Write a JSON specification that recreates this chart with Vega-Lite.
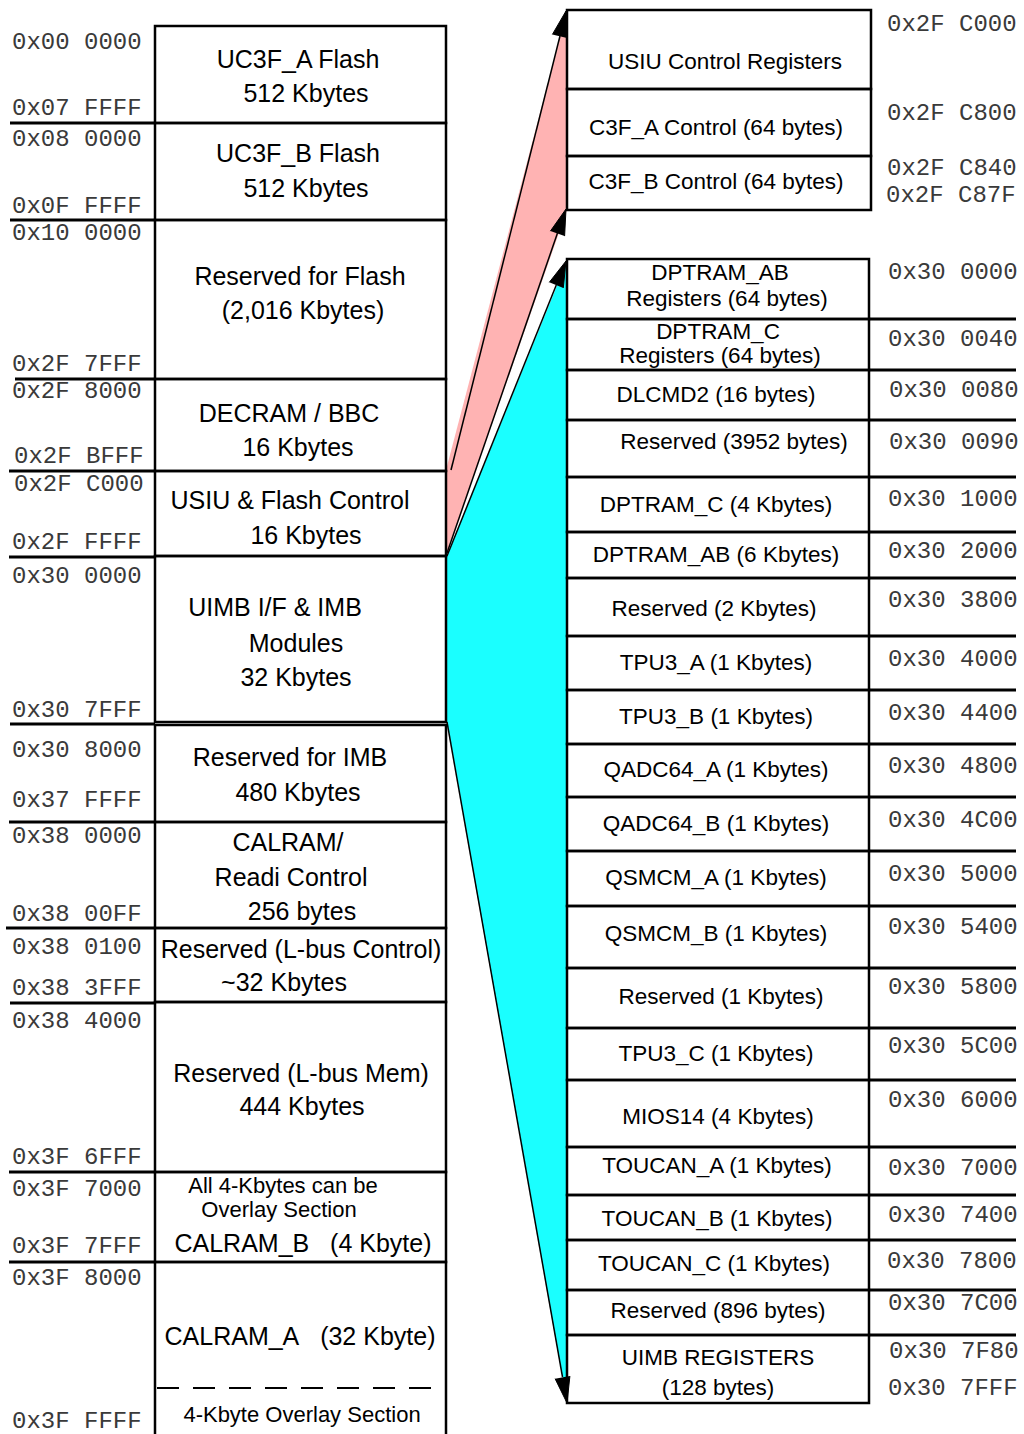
{
  "$schema": "https://vega.github.io/schema/vega-lite/v6.json",
  "width": 1024,
  "height": 1434,
  "autosize": {"type": "fit", "contains": "padding"},
  "padding": 0,
  "background": "white",
  "config": {"view": {"stroke": null}, "axis": {"disable": true}},
  "datasets": {
    "fans": [
      {"fan": "USIU & Flash Control", "x": 446, "top": 470, "bottom": 555},
      {"fan": "USIU & Flash Control", "x": 567, "top": 10, "bottom": 210},
      {"fan": "UIMB I/F & IMB Modules", "x": 447, "top": 556, "bottom": 722},
      {"fan": "UIMB I/F & IMB Modules", "x": 567, "top": 261, "bottom": 1403}
    ],
    "boxes": [
      {"x0": 155, "x1": 446, "y0": 26, "y1": 123},
      {"x0": 155, "x1": 446, "y0": 123, "y1": 220},
      {"x0": 155, "x1": 446, "y0": 220, "y1": 379},
      {"x0": 155, "x1": 446, "y0": 379, "y1": 471},
      {"x0": 155, "x1": 446, "y0": 471, "y1": 556},
      {"x0": 155, "x1": 446, "y0": 556, "y1": 722},
      {"x0": 155, "x1": 446, "y0": 725, "y1": 822},
      {"x0": 155, "x1": 446, "y0": 822, "y1": 928},
      {"x0": 155, "x1": 446, "y0": 928, "y1": 1002},
      {"x0": 155, "x1": 446, "y0": 1002, "y1": 1172},
      {"x0": 155, "x1": 446, "y0": 1172, "y1": 1262},
      {"x0": 155, "x1": 446, "y0": 1262, "y1": 1445},
      {"x0": 567, "x1": 871, "y0": 10, "y1": 89},
      {"x0": 567, "x1": 871, "y0": 89, "y1": 156},
      {"x0": 567, "x1": 871, "y0": 156, "y1": 210},
      {"x0": 567, "x1": 869, "y0": 259, "y1": 319},
      {"x0": 567, "x1": 869, "y0": 319, "y1": 370},
      {"x0": 567, "x1": 869, "y0": 370, "y1": 420},
      {"x0": 567, "x1": 869, "y0": 420, "y1": 477},
      {"x0": 567, "x1": 869, "y0": 477, "y1": 532},
      {"x0": 567, "x1": 869, "y0": 532, "y1": 578},
      {"x0": 567, "x1": 869, "y0": 578, "y1": 636},
      {"x0": 567, "x1": 869, "y0": 636, "y1": 690},
      {"x0": 567, "x1": 869, "y0": 690, "y1": 744},
      {"x0": 567, "x1": 869, "y0": 744, "y1": 797},
      {"x0": 567, "x1": 869, "y0": 797, "y1": 851},
      {"x0": 567, "x1": 869, "y0": 851, "y1": 906},
      {"x0": 567, "x1": 869, "y0": 906, "y1": 968},
      {"x0": 567, "x1": 869, "y0": 968, "y1": 1028},
      {"x0": 567, "x1": 869, "y0": 1028, "y1": 1080},
      {"x0": 567, "x1": 869, "y0": 1080, "y1": 1147},
      {"x0": 567, "x1": 869, "y0": 1147, "y1": 1195},
      {"x0": 567, "x1": 869, "y0": 1195, "y1": 1240},
      {"x0": 567, "x1": 869, "y0": 1240, "y1": 1290},
      {"x0": 567, "x1": 869, "y0": 1290, "y1": 1335},
      {"x0": 567, "x1": 869, "y0": 1335, "y1": 1403}
    ],
    "leaders": [
      {"x0": 10, "x1": 155, "y": 123},
      {"x0": 10, "x1": 155, "y": 220},
      {"x0": 15, "x1": 155, "y": 379},
      {"x0": 9, "x1": 155, "y": 471},
      {"x0": 9, "x1": 155, "y": 557},
      {"x0": 10, "x1": 155, "y": 724},
      {"x0": 9, "x1": 155, "y": 822},
      {"x0": 6, "x1": 155, "y": 928},
      {"x0": 10, "x1": 155, "y": 1003},
      {"x0": 9, "x1": 155, "y": 1172},
      {"x0": 9, "x1": 155, "y": 1262},
      {"x0": 869, "x1": 1016, "y": 319},
      {"x0": 869, "x1": 1016, "y": 370},
      {"x0": 869, "x1": 1016, "y": 420},
      {"x0": 869, "x1": 1016, "y": 477},
      {"x0": 869, "x1": 1016, "y": 532},
      {"x0": 869, "x1": 1016, "y": 578},
      {"x0": 869, "x1": 1016, "y": 636},
      {"x0": 869, "x1": 1016, "y": 690},
      {"x0": 869, "x1": 1016, "y": 744},
      {"x0": 869, "x1": 1016, "y": 797},
      {"x0": 869, "x1": 1016, "y": 851},
      {"x0": 869, "x1": 1016, "y": 906},
      {"x0": 869, "x1": 1016, "y": 968},
      {"x0": 869, "x1": 1016, "y": 1028},
      {"x0": 869, "x1": 1016, "y": 1080},
      {"x0": 869, "x1": 1016, "y": 1147},
      {"x0": 869, "x1": 1016, "y": 1195},
      {"x0": 869, "x1": 1016, "y": 1240},
      {"x0": 869, "x1": 1016, "y": 1290},
      {"x0": 869, "x1": 1016, "y": 1335}
    ],
    "overlay": [
      {"x0": 157, "x1": 445, "y": 1388}
    ],
    "arrows": [
      {"arrow": "to USIU Control Registers", "x0": 451, "y0": 470, "x1": 560, "y1": 36},
      {"arrow": "to C3F_B Control end", "x0": 447, "y0": 553, "x1": 557.5, "y1": 233},
      {"arrow": "to DPTRAM_AB Registers", "x0": 447, "y0": 556, "x1": 556.3, "y1": 285},
      {"arrow": "to UIMB REGISTERS end", "x0": 447, "y0": 722, "x1": 562.5, "y1": 1377}
    ],
    "heads": [
      {"arrow": "to USIU Control Registers", "seq": 0, "x": 552.4, "y": 34.4},
      {"arrow": "to USIU Control Registers", "seq": 1, "x": 566, "y": 11},
      {"arrow": "to USIU Control Registers", "seq": 2, "x": 567, "y": 38},
      {"arrow": "to C3F_B Control end", "seq": 0, "x": 550.4, "y": 231.1},
      {"arrow": "to C3F_B Control end", "seq": 1, "x": 566, "y": 209},
      {"arrow": "to C3F_B Control end", "seq": 2, "x": 564.6, "y": 236.1},
      {"arrow": "to DPTRAM_AB Registers", "seq": 0, "x": 549.3, "y": 282.3},
      {"arrow": "to DPTRAM_AB Registers", "seq": 1, "x": 566, "y": 261},
      {"arrow": "to DPTRAM_AB Registers", "seq": 2, "x": 563.3, "y": 287.9},
      {"arrow": "to UIMB REGISTERS end", "seq": 0, "x": 555.1, "y": 1378.7},
      {"arrow": "to UIMB REGISTERS end", "seq": 1, "x": 567, "y": 1403},
      {"arrow": "to UIMB REGISTERS end", "seq": 2, "x": 569.9, "y": 1376.1}
    ],
    "labels": [
      {"x": 298, "y": 60, "text": "UC3F_A Flash", "kind": "main"},
      {"x": 306, "y": 94, "text": "512 Kbytes", "kind": "main"},
      {"x": 298, "y": 154, "text": "UC3F_B Flash", "kind": "main"},
      {"x": 306, "y": 189, "text": "512 Kbytes", "kind": "main"},
      {"x": 300, "y": 277, "text": "Reserved for Flash", "kind": "main"},
      {"x": 303, "y": 311, "text": "(2,016 Kbytes)", "kind": "main"},
      {"x": 289, "y": 414, "text": "DECRAM / BBC", "kind": "main"},
      {"x": 298, "y": 448, "text": "16 Kbytes", "kind": "main"},
      {"x": 290, "y": 501, "text": "USIU & Flash Control", "kind": "main"},
      {"x": 306, "y": 536, "text": "16 Kbytes", "kind": "main"},
      {"x": 275, "y": 608, "text": "UIMB I/F & IMB", "kind": "main"},
      {"x": 296, "y": 644, "text": "Modules", "kind": "main"},
      {"x": 296, "y": 678, "text": "32 Kbytes", "kind": "main"},
      {"x": 290, "y": 758, "text": "Reserved for IMB", "kind": "main"},
      {"x": 298, "y": 793, "text": "480 Kbytes", "kind": "main"},
      {"x": 288, "y": 843, "text": "CALRAM/", "kind": "main"},
      {"x": 291, "y": 878, "text": "Readi Control", "kind": "main"},
      {"x": 302, "y": 912, "text": "256 bytes", "kind": "main"},
      {"x": 301, "y": 950, "text": "Reserved (L-bus Control)", "kind": "main"},
      {"x": 284, "y": 983, "text": "~32 Kbytes", "kind": "main"},
      {"x": 301, "y": 1074, "text": "Reserved (L-bus Mem)", "kind": "main"},
      {"x": 302, "y": 1107, "text": "444 Kbytes", "kind": "main"},
      {"x": 283, "y": 1186, "text": "All 4-Kbytes can be", "kind": "small"},
      {"x": 279, "y": 1210, "text": "Overlay Section", "kind": "small"},
      {"x": 303, "y": 1244, "text": "CALRAM_B\u00a0\u00a0\u00a0(4 Kbyte)", "kind": "main"},
      {"x": 300, "y": 1337, "text": "CALRAM_A\u00a0\u00a0\u00a0(32 Kbyte)", "kind": "main"},
      {"x": 302, "y": 1415, "text": "4-Kbyte Overlay Section", "kind": "small"},
      {"x": 725, "y": 62, "text": "USIU Control Registers", "kind": "reg"},
      {"x": 716, "y": 128, "text": "C3F_A Control (64 bytes)", "kind": "reg"},
      {"x": 716, "y": 182, "text": "C3F_B Control (64 bytes)", "kind": "reg"},
      {"x": 720, "y": 273, "text": "DPTRAM_AB", "kind": "reg"},
      {"x": 727, "y": 299, "text": "Registers (64 bytes)", "kind": "reg"},
      {"x": 718, "y": 332, "text": "DPTRAM_C", "kind": "reg"},
      {"x": 720, "y": 356, "text": "Registers (64 bytes)", "kind": "reg"},
      {"x": 716, "y": 395, "text": "DLCMD2 (16 bytes)", "kind": "reg"},
      {"x": 734, "y": 442, "text": "Reserved (3952 bytes)", "kind": "reg"},
      {"x": 716, "y": 505, "text": "DPTRAM_C (4 Kbytes)", "kind": "reg"},
      {"x": 716, "y": 555, "text": "DPTRAM_AB (6 Kbytes)", "kind": "reg"},
      {"x": 714, "y": 609, "text": "Reserved (2 Kbytes)", "kind": "reg"},
      {"x": 716, "y": 663, "text": "TPU3_A (1 Kbytes)", "kind": "reg"},
      {"x": 716, "y": 717, "text": "TPU3_B (1 Kbytes)", "kind": "reg"},
      {"x": 716, "y": 770, "text": "QADC64_A (1 Kbytes)", "kind": "reg"},
      {"x": 716, "y": 824, "text": "QADC64_B (1 Kbytes)", "kind": "reg"},
      {"x": 716, "y": 878, "text": "QSMCM_A (1 Kbytes)", "kind": "reg"},
      {"x": 716, "y": 934, "text": "QSMCM_B (1 Kbytes)", "kind": "reg"},
      {"x": 721, "y": 997, "text": "Reserved (1 Kbytes)", "kind": "reg"},
      {"x": 716, "y": 1054, "text": "TPU3_C (1 Kbytes)", "kind": "reg"},
      {"x": 718, "y": 1117, "text": "MIOS14 (4 Kbytes)", "kind": "reg"},
      {"x": 717, "y": 1166, "text": "TOUCAN_A (1 Kbytes)", "kind": "reg"},
      {"x": 717, "y": 1219, "text": "TOUCAN_B (1 Kbytes)", "kind": "reg"},
      {"x": 714, "y": 1264, "text": "TOUCAN_C (1 Kbytes)", "kind": "reg"},
      {"x": 718, "y": 1311, "text": "Reserved (896 bytes)", "kind": "reg"},
      {"x": 718, "y": 1358, "text": "UIMB REGISTERS", "kind": "reg"},
      {"x": 718, "y": 1388, "text": "(128 bytes)", "kind": "reg"}
    ],
    "addresses": [
      {"x": 12, "y": 42, "text": "0x00 0000"},
      {"x": 12, "y": 108, "text": "0x07 FFFF"},
      {"x": 12, "y": 139, "text": "0x08 0000"},
      {"x": 12, "y": 206, "text": "0x0F FFFF"},
      {"x": 12, "y": 233, "text": "0x10 0000"},
      {"x": 12, "y": 364, "text": "0x2F 7FFF"},
      {"x": 12, "y": 391, "text": "0x2F 8000"},
      {"x": 14, "y": 456, "text": "0x2F BFFF"},
      {"x": 14, "y": 484, "text": "0x2F C000"},
      {"x": 12, "y": 542, "text": "0x2F FFFF"},
      {"x": 12, "y": 576, "text": "0x30 0000"},
      {"x": 12, "y": 710, "text": "0x30 7FFF"},
      {"x": 12, "y": 750, "text": "0x30 8000"},
      {"x": 12, "y": 800, "text": "0x37 FFFF"},
      {"x": 12, "y": 836, "text": "0x38 0000"},
      {"x": 12, "y": 914, "text": "0x38 00FF"},
      {"x": 12, "y": 947, "text": "0x38 0100"},
      {"x": 12, "y": 988, "text": "0x38 3FFF"},
      {"x": 12, "y": 1021, "text": "0x38 4000"},
      {"x": 12, "y": 1157, "text": "0x3F 6FFF"},
      {"x": 12, "y": 1189, "text": "0x3F 7000"},
      {"x": 12, "y": 1246, "text": "0x3F 7FFF"},
      {"x": 12, "y": 1278, "text": "0x3F 8000"},
      {"x": 12, "y": 1421, "text": "0x3F FFFF"},
      {"x": 887, "y": 24, "text": "0x2F C000"},
      {"x": 887, "y": 113, "text": "0x2F C800"},
      {"x": 887, "y": 168, "text": "0x2F C840"},
      {"x": 886, "y": 195, "text": "0x2F C87F"},
      {"x": 888, "y": 272, "text": "0x30 0000"},
      {"x": 888, "y": 339, "text": "0x30 0040"},
      {"x": 889, "y": 390, "text": "0x30 0080"},
      {"x": 889, "y": 442, "text": "0x30 0090"},
      {"x": 888, "y": 499, "text": "0x30 1000"},
      {"x": 888, "y": 551, "text": "0x30 2000"},
      {"x": 888, "y": 600, "text": "0x30 3800"},
      {"x": 888, "y": 659, "text": "0x30 4000"},
      {"x": 888, "y": 713, "text": "0x30 4400"},
      {"x": 888, "y": 766, "text": "0x30 4800"},
      {"x": 888, "y": 820, "text": "0x30 4C00"},
      {"x": 888, "y": 874, "text": "0x30 5000"},
      {"x": 888, "y": 927, "text": "0x30 5400"},
      {"x": 888, "y": 987, "text": "0x30 5800"},
      {"x": 888, "y": 1046, "text": "0x30 5C00"},
      {"x": 888, "y": 1100, "text": "0x30 6000"},
      {"x": 888, "y": 1168, "text": "0x30 7000"},
      {"x": 888, "y": 1215, "text": "0x30 7400"},
      {"x": 887, "y": 1261, "text": "0x30 7800"},
      {"x": 888, "y": 1303, "text": "0x30 7C00"},
      {"x": 889, "y": 1351, "text": "0x30 7F80"},
      {"x": 888, "y": 1388, "text": "0x30 7FFF"}
    ]
  },
  "layer": [
    {
      "data": {"name": "fans"},
      "mark": {"type": "area", "strokeWidth": 0},
      "encoding": {
        "x": {"field": "x", "type": "quantitative", "scale": {"domain": [0, 1024], "nice": false, "zero": false}},
        "y": {"field": "top", "type": "quantitative", "scale": {"domain": [0, 1434], "reverse": true, "nice": false, "zero": false}},
        "y2": {"field": "bottom"},
        "color": {"field": "fan", "type": "nominal", "scale": {"domain": ["USIU & Flash Control", "UIMB I/F & IMB Modules"], "range": ["#ffb3b3", "#1affff"]}, "legend": null},
        "opacity": {"value": 1}
      }
    },
    {
      "data": {"name": "boxes"},
      "mark": {"type": "rect", "fillOpacity": 0, "stroke": "black", "strokeWidth": 2.5, "clip": true},
      "encoding": {
        "x": {"field": "x0", "type": "quantitative"},
        "x2": {"field": "x1"},
        "y": {"field": "y0", "type": "quantitative"},
        "y2": {"field": "y1"}
      }
    },
    {
      "data": {"name": "leaders"},
      "mark": {"type": "rule", "stroke": "black", "strokeWidth": 3},
      "encoding": {
        "x": {"field": "x0", "type": "quantitative"},
        "x2": {"field": "x1"},
        "y": {"field": "y", "type": "quantitative"}
      }
    },
    {
      "data": {"name": "overlay"},
      "mark": {"type": "rule", "stroke": "black", "strokeWidth": 2, "strokeDash": [22, 14]},
      "encoding": {
        "x": {"field": "x0", "type": "quantitative"},
        "x2": {"field": "x1"},
        "y": {"field": "y", "type": "quantitative"}
      }
    },
    {
      "data": {"name": "arrows"},
      "mark": {"type": "rule", "stroke": "black", "strokeWidth": 1.5},
      "encoding": {
        "x": {"field": "x0", "type": "quantitative"},
        "y": {"field": "y0", "type": "quantitative"},
        "x2": {"field": "x1"},
        "y2": {"field": "y1"}
      }
    },
    {
      "data": {"name": "heads"},
      "mark": {"type": "line", "stroke": "black", "fill": "black", "strokeWidth": 1, "strokeJoin": "miter"},
      "encoding": {
        "x": {"field": "x", "type": "quantitative"},
        "y": {"field": "y", "type": "quantitative"},
        "detail": {"field": "arrow", "type": "nominal"},
        "order": {"field": "seq", "type": "quantitative"}
      }
    },
    {
      "data": {"name": "labels"},
      "transform": [{"filter": "datum.kind === 'main'"}],
      "mark": {"type": "text", "font": "Liberation Sans", "fontSize": 25, "align": "center", "baseline": "middle", "color": "black"},
      "encoding": {
        "x": {"field": "x", "type": "quantitative"},
        "y": {"field": "y", "type": "quantitative"},
        "text": {"field": "text"}
      }
    },
    {
      "data": {"name": "labels"},
      "transform": [{"filter": "datum.kind === 'small'"}],
      "mark": {"type": "text", "font": "Liberation Sans", "fontSize": 22, "align": "center", "baseline": "middle", "color": "black"},
      "encoding": {
        "x": {"field": "x", "type": "quantitative"},
        "y": {"field": "y", "type": "quantitative"},
        "text": {"field": "text"}
      }
    },
    {
      "data": {"name": "labels"},
      "transform": [{"filter": "datum.kind === 'reg'"}],
      "mark": {"type": "text", "font": "Liberation Sans", "fontSize": 22.5, "align": "center", "baseline": "middle", "color": "black"},
      "encoding": {
        "x": {"field": "x", "type": "quantitative"},
        "y": {"field": "y", "type": "quantitative"},
        "text": {"field": "text"}
      }
    },
    {
      "data": {"name": "addresses"},
      "mark": {"type": "text", "font": "Liberation Mono", "fontSize": 24, "align": "left", "baseline": "middle", "color": "#3a3a3a"},
      "encoding": {
        "x": {"field": "x", "type": "quantitative"},
        "y": {"field": "y", "type": "quantitative"},
        "text": {"field": "text"}
      }
    }
  ]
}
